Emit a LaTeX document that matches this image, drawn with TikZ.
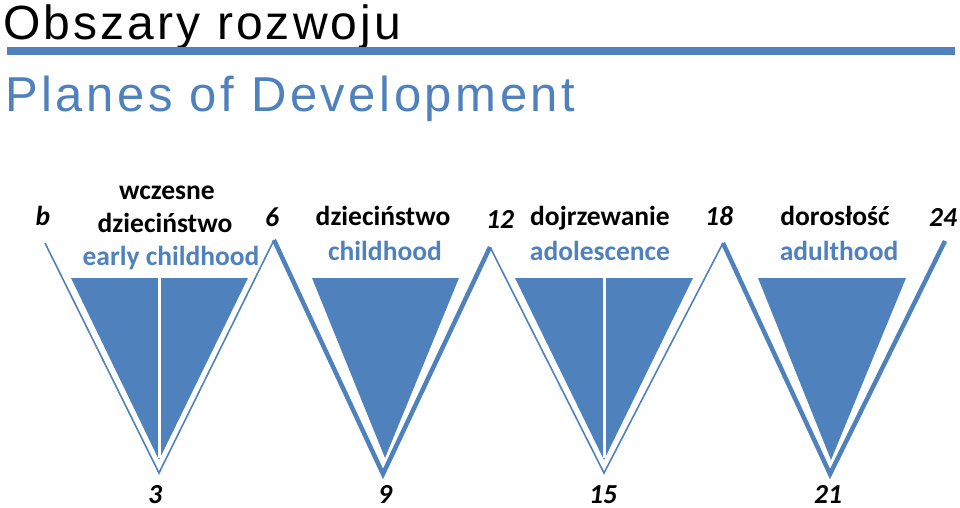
\documentclass[tikz,border=0pt]{standalone}
\usepackage{fontspec}
\setmainfont{Liberation Sans}
\newfontfamily\titlefont[LetterSpace=6.5]{Liberation Sans}
\newfontfamily\subfont[LetterSpace=7.2]{Liberation Sans}
\newfontfamily\labfont{Carlito}
\definecolor{ofblue}{RGB}{79,129,189}
\begin{document}
\begin{tikzpicture}[x=1pt,y=-1pt,
  lab/.style={font=\labfont\fontsize{27.5}{27.5}\selectfont\bfseries, anchor=base, inner sep=0pt},
  blab/.style={lab, text=ofblue},
  num/.style={font=\labfont\fontsize{27.5}{27.5}\selectfont\bfseries\itshape, anchor=base, inner sep=0pt},
  ttl/.style={font=\titlefont\fontsize{48}{48}\selectfont, anchor=base west, inner sep=0pt},
  subttl/.style={font=\subfont\fontsize{49}{49}\selectfont, anchor=base west, inner sep=0pt, text=ofblue},
  thinv/.style={draw=ofblue, line width=1.6pt},
  thickv/.style={draw=ofblue, line width=4.5pt},
  wedge/.style={fill=ofblue},
  splitline/.style={draw=white, line width=3pt}]
\useasboundingbox (0,0) rectangle (960,508);

% titles
\node[ttl] (title) at (3,40) {Obszary rozwoju};
\fill[ofblue] (7,47) rectangle (955,55);
\node[subttl] (sub) at (5,112) {Planes of Development};

% zigzag points
\coordinate (p0) at (45,243);
\coordinate (v1) at (159,473);
\coordinate (p1) at (274,240);
\coordinate (v2) at (383,474);
\coordinate (p2) at (490,247);
\coordinate (v3) at (604,473);
\coordinate (p3) at (723,243);
\coordinate (v4) at (830,474);
\coordinate (p4) at (945,241);

\draw[thinv] (p0) -- (v1) -- (p1);
\draw[thickv] (p1) -- (v2) -- (p2);
\draw[thinv] (p2) -- (v3) -- (p3);
\draw[thickv] (p3) -- (v4) -- (p4);

% wedges
\fill[wedge] (71,278) -- (248,278) -- (159,460) -- cycle;
\draw[splitline] (159,278) -- (159,458);
\fill[wedge] (312,278) -- (459,278) -- (385,458) -- cycle;
\fill[wedge] (515,278) -- (693,278) -- (604,460) -- cycle;
\draw[splitline] (604,278) -- (604,458);
\fill[wedge] (758,278) -- (906,278) -- (831,460) -- cycle;

% labels
\node[num] (nb) at (43,225) {b};
\node[lab] (w1a) at (167,199) {wczesne};
\node[lab] (w1b) at (165,232) {dzieciństwo};
\node[blab] (e1) at (171,265) {early childhood};
\node[num] (n6) at (272,226) {6};
\node[lab] (w2) at (383,225) {dzieciństwo};
\node[blab] (e2) at (385,260) {childhood};
\node[num] (n12) at (500,228) {12};
\node[lab] (w3) at (600,225) {dojrzewanie};
\node[blab] (e3) at (600,260) {adolescence};
\node[num] (n18) at (719,225) {18};
\node[lab] (w4) at (835,225) {dorosłość};
\node[blab] (e4) at (839,260) {adulthood};
\node[num] (n24) at (943,226) {24};
\node[num] (n3) at (155,503) {3};
\node[num] (n9) at (385,503) {9};
\node[num] (n15) at (603,503) {15};
\node[num] (n21) at (828,503) {21};
\end{tikzpicture}
\end{document}
